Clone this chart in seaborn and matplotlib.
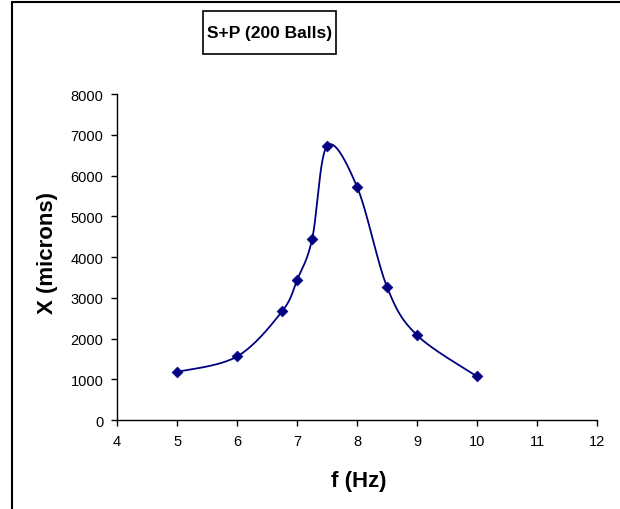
import numpy as np
import pandas as pd
import matplotlib
matplotlib.use('Agg')
import matplotlib.pyplot as plt
import seaborn as sns
from matplotlib.patches import Rectangle
from matplotlib.lines import Line2D

# data
freq_hz = [5, 6, 6.75, 7, 7.25, 7.5, 8, 8.5, 9, 10]
x_microns = [1180, 1560, 2670, 3440, 4440, 6730, 5720, 3260, 2080, 1070]
x_ticks = [4, 5, 6, 7, 8, 9, 10, 11, 12]
y_ticks = [0, 1000, 2000, 3000, 4000, 5000, 6000, 7000, 8000]

sns.set_style('white')
plt.rcParams['font.family'] = ['Liberation Sans', 'DejaVu Sans']
plt.rcParams['text.color'] = 'black'
plt.rcParams['axes.labelcolor'] = 'black'
plt.rcParams['xtick.color'] = 'black'
plt.rcParams['ytick.color'] = 'black'

df = pd.DataFrame({'f': freq_hz, 'X': x_microns})


# Excel-style smoothed line (cubic bezier through the points)
def smooth_curve(xs, ys, n=40):
    p = np.column_stack([xs, ys]).astype(float)
    pts = []
    for i in range(len(p) - 1):
        p0 = p[i - 1] if i > 0 else p[i]
        p3 = p[i + 2] if i + 2 < len(p) else p[i + 1]
        c1 = p[i] + (p[i + 1] - p0) / 6
        c2 = p[i + 1] - (p3 - p[i]) / 6
        t = np.linspace(0, 1, n)[:, None]
        seg = ((1 - t) ** 3) * p[i] + 3 * ((1 - t) ** 2) * t * c1 \
            + 3 * (1 - t) * t ** 2 * c2 + t ** 3 * p[i + 1]
        pts.append(seg if i == 0 else seg[1:])
    return np.vstack(pts)


curve = smooth_curve(df['f'], df['X'])
curve_df = pd.DataFrame({'f': curve[:, 0], 'X': curve[:, 1]})

fig = plt.figure(figsize=(6.2, 5.1), dpi=100)
ax = fig.add_axes([0.189, 0.1745, 0.774, 0.639])

sns.lineplot(data=curve_df, x='f', y='X', sort=False, color='#000080',
             linewidth=1.3, ax=ax)
sns.scatterplot(data=df, x='f', y='X', marker='D', s=30, color='#000080',
                edgecolor='#000080', linewidth=0.5, ax=ax, zorder=3)

ax.set_xlim(4, 12)
ax.set_ylim(0, 8000)
ax.set_xticks(x_ticks)
ax.set_yticks(y_ticks)
ax.tick_params(axis='both', labelsize=10.5, length=4, width=1, color='black',
               labelcolor='black', direction='out', bottom=True, left=True,
               pad=6)
for s in ['top', 'right']:
    ax.spines[s].set_visible(False)
for s in ['left', 'bottom']:
    ax.spines[s].set_color('black')
    ax.spines[s].set_linewidth(1.0)

ax.set_xlabel('f (Hz)', fontsize=16, fontweight='bold', va='center',
              color='black')
ax.set_ylabel('X (microns)', fontsize=16, fontweight='bold', va='center',
              color='black')
ax.xaxis.set_label_coords(0.504, -0.187)
ax.yaxis.set_label_coords(-0.145, 0.515)

# title in a box
fig.patches.append(Rectangle((203 / 620, 1 - 55 / 510), 133 / 620, 43 / 510,
                             transform=fig.transFigure, facecolor='white',
                             edgecolor='black', linewidth=1.2))
fig.text(269.5 / 620, 1 - 33.5 / 510, 'S+P (200 Balls)', fontsize=12.5,
         fontweight='bold', ha='center', va='center', color='black')

# outer chart frame (left and top edges)
fig.lines.append(Line2D([12 / 620, 12 / 620], [0, 1 - 3 / 510],
                        transform=fig.transFigure, color='black', linewidth=1.5))
fig.lines.append(Line2D([12 / 620, 1], [1 - 3 / 510, 1 - 3 / 510],
                        transform=fig.transFigure, color='black', linewidth=1.5))

fig.savefig('out.png', dpi=100)
